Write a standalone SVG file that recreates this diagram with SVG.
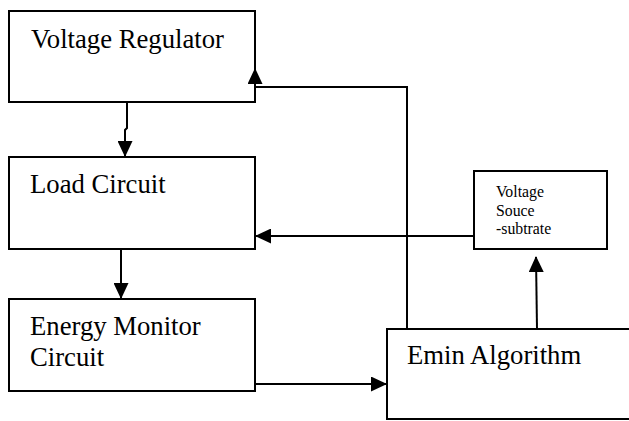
<svg xmlns="http://www.w3.org/2000/svg" width="629" height="421" viewBox="0 0 629 421">
<style>
.box{fill:#fff;stroke:#000;stroke-width:2}
.t{font-family:"Liberation Serif","Times New Roman",serif;font-size:26.7px;fill:#000}
.s{font-family:"Liberation Serif","Times New Roman",serif;font-size:15.8px;fill:#000}
.w{fill:none;stroke:#000;stroke-width:2}
</style>
<defs>
<marker id="ah" viewBox="0 0 16 15" refX="15" refY="7.5" markerWidth="16" markerHeight="15" markerUnits="userSpaceOnUse" orient="auto">
<path d="M0,0 L16,7.5 L0,15 Z" fill="#000"/>
</marker>
</defs>
<g id="voltage-regulator">
<rect class="box" x="9" y="11" width="246" height="91"/>
<text class="t" x="31" y="48">Voltage Regulator</text>
</g>
<g id="load-circuit">
<rect class="box" x="9" y="157" width="246" height="92"/>
<text class="t" x="30" y="193">Load Circuit</text>
</g>
<g id="energy-monitor">
<rect class="box" x="9" y="299" width="246" height="92"/>
<text class="t" x="30" y="335">Energy Monitor</text>
<text class="t" x="30" y="366">Circuit</text>
</g>
<g id="voltage-source">
<rect class="box" x="474" y="171" width="133" height="78"/>
<text class="s" x="496" y="197">Voltage</text>
<text class="s" x="496" y="216">Souce</text>
<text class="s" x="496" y="234">-subtrate</text>
</g>
<g id="emin-algorithm">
<rect class="box" x="387" y="329" width="260" height="90"/>
<text class="t" x="407" y="364">Emin Algorithm</text>
</g>
<g id="connectors">
<path class="w" d="M127,102 L127,128 L125,130 L125,156" marker-end="url(#ah)"/>
<path class="w" d="M121,249 L121,298" marker-end="url(#ah)"/>
<path class="w" d="M255,384 L386,384" marker-end="url(#ah)"/>
<path class="w" d="M407,329 L407,87 L255,87 L255,69" marker-end="url(#ah)"/>
<path class="w" d="M474,236 L256,236" marker-end="url(#ah)"/>
<path class="w" d="M537,329 L536,257" marker-end="url(#ah)"/>
</g>
</svg>
